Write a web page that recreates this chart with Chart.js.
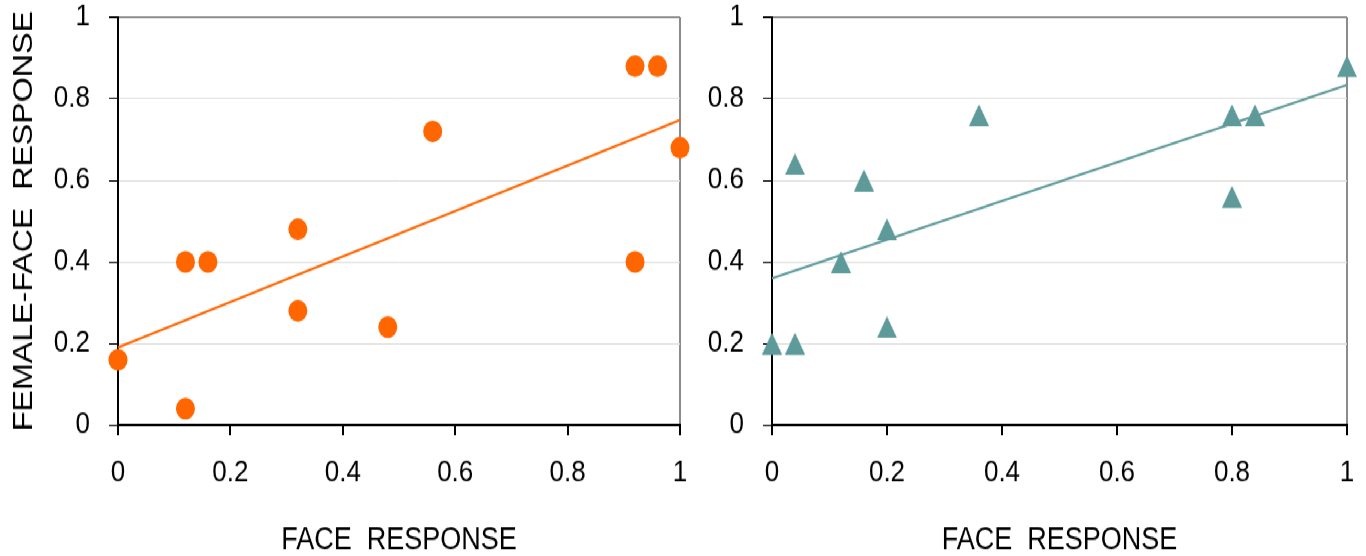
<!DOCTYPE html>
<html>
<head>
<meta charset="utf-8">
<script src="https://cdn.jsdelivr.net/npm/chart.js@4/dist/chart.umd.min.js"></script>
<style>
  html, body { margin: 0; padding: 0; background: #fff; overflow: hidden; }
  #wrap { position: absolute; left: 0; top: 0; width: 1366px; height: 484px;
          transform: scaleY(1.1488); transform-origin: 0 0; }
  #left { position: absolute; left: 0; top: 0; }
  #right { position: absolute; left: 700px; top: 0; }
</style>
</head>
<body>
<div id="wrap">
  <canvas id="left" width="700" height="484"></canvas>
  <canvas id="right" width="666" height="484"></canvas>
</div>
<script>
// values
const faceLeft   = [0, 0.12, 0.12, 0.16, 0.32, 0.32, 0.48, 0.56, 0.92, 0.96, 0.92, 1.0];
const femaleLeft = [0.16, 0.04, 0.40, 0.40, 0.48, 0.28, 0.24, 0.72, 0.88, 0.88, 0.40, 0.68];
const trendLeftX = [0, 1];
const trendLeftY = [0.19, 0.748];

const faceRight   = [0, 0.04, 0.04, 0.12, 0.16, 0.20, 0.20, 0.36, 0.80, 0.84, 0.80, 1.0];
const femaleRight = [0.20, 0.20, 0.64, 0.40, 0.60, 0.48, 0.24, 0.76, 0.76, 0.76, 0.56, 0.88];
const trendRightX = [0, 1];
const trendRightY = [0.36, 0.834];

const tickValues = [0, 0.2, 0.4, 0.6, 0.8, 1];
const tickLabels = ['0', '0.2', '0.4', '0.6', '0.8', '1'];

const FONT = "'Liberation Sans', Arial, sans-serif";
const ORANGE = '#ff6600';
const TEAL = '#5e9a9a';

Chart.defaults.devicePixelRatio = 1;

function pts(xs, ys) {
  return xs.map((x, i) => ({ x: x, y: ys[i] }));
}

// triangle marker (canvas, centred on its box)
const tri = document.createElement('canvas');
tri.width = 20; tri.height = 19;
(function () {
  const c = tri.getContext('2d');
  c.fillStyle = TEAL;
  c.beginPath();
  c.moveTo(10, 0);
  c.lineTo(20, 19);
  c.lineTo(0, 19);
  c.closePath();
  c.fill();
})();

function setTicks(scale) {
  scale.ticks = tickValues.map(v => ({ value: v }));
}

function makeOptions(yWidth, padRight, showTitle) {
  return {
    responsive: false,
    animation: false,
    layout: { padding: { left: 0, right: padRight, top: 15, bottom: 0 } },
    plugins: { legend: { display: false }, tooltip: { enabled: false } },
    scales: {
      x: {
        type: 'linear', min: 0, max: 1,
        afterBuildTicks: setTicks,
        afterFit: s => { s.height = 114; s.paddingLeft = 0; s.paddingRight = 0; },
        border: { display: true, color: '#000', width: 2 },
        grid: {
          drawOnChartArea: true,
          color: c => (c.tick && c.tick.value === 1) ? '#8c8c8c' : 'rgba(0,0,0,0)',
          lineWidth: 2,
          tickColor: '#000',
          tickLength: 9
        },
        ticks: {
          color: '#000', padding: 17, maxRotation: 0,
          font: { family: FONT, size: 26 },
          callback: (v) => tickLabels[tickValues.indexOf(v)]
        },
        title: {
          display: true, text: 'FACE  RESPONSE', color: '#000',
          font: { family: FONT, size: 27, lineHeight: 1 },
          padding: { top: 2, bottom: 0 }
        }
      },
      y: {
        type: 'linear', min: 0, max: 1,
        afterBuildTicks: setTicks,
        afterFit: s => { s.width = yWidth; s.paddingTop = 0; s.paddingBottom = 0; },
        border: { display: true, color: '#000', width: 2 },
        grid: {
          color: c => {
            if (!c.tick) return 'rgba(0,0,0,0)';
            if (c.tick.value === 1) return '#8c8c8c';
            if (c.tick.value === 0) return 'rgba(0,0,0,0)';
            return '#dedede';
          },
          lineWidth: c => (c.tick && c.tick.value === 1) ? 2 : 1,
          tickColor: '#000',
          tickLength: 9
        },
        ticks: {
          color: '#000', padding: 19,
          font: { family: FONT, size: 26 },
          callback: (v) => tickLabels[tickValues.indexOf(v)]
        },
        title: {
          display: showTitle, text: 'FEMALE-FACE  RESPONSE', color: '#000',
          font: { family: FONT, size: 28, lineHeight: 1.2 },
          padding: { top: 7, bottom: 0 }
        }
      }
    }
  };
}

new Chart(document.getElementById('left'), {
  type: 'scatter',
  data: {
    datasets: [
      {
        type: 'line',
        data: pts(trendLeftX, trendLeftY),
        borderColor: ORANGE, borderWidth: 2,
        pointRadius: 0, fill: false, clip: false
      },
      {
        data: pts(faceLeft, femaleLeft),
        pointStyle: 'circle', pointRadius: 9.5,
        backgroundColor: ORANGE, borderWidth: 0, clip: false
      }
    ]
  },
  options: makeOptions(118, 20, true)
});

new Chart(document.getElementById('right'), {
  type: 'scatter',
  data: {
    datasets: [
      {
        type: 'line',
        data: pts(trendRightX, trendRightY),
        borderColor: TEAL, borderWidth: 2,
        pointRadius: 0, fill: false, clip: false
      },
      {
        data: pts(faceRight, femaleRight),
        pointStyle: tri, pointRadius: 10,
        backgroundColor: TEAL, borderWidth: 0, clip: false
      }
    ]
  },
  options: makeOptions(72, 19, false)
});
</script>
</body>
</html>
